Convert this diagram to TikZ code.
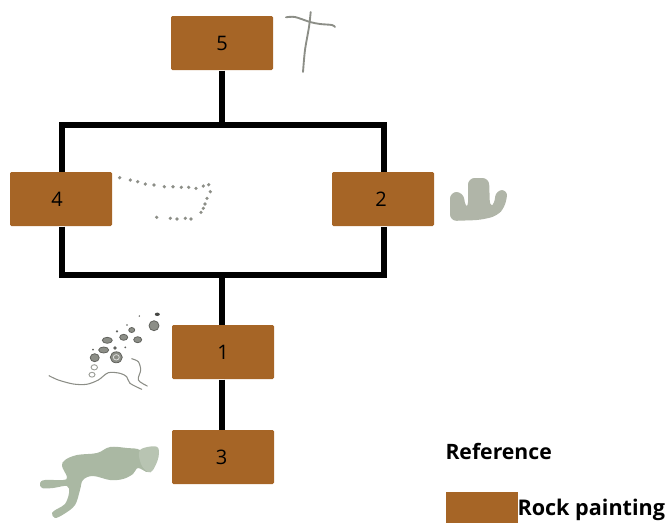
\documentclass[tikz,border=0pt]{standalone}
\usepackage{fontspec}
\setmainfont{Open Sans}
\definecolor{rockbrown}{RGB}{166,101,38}
\definecolor{paintgreen}{RGB}{170,184,163}
\definecolor{paintpale}{RGB}{184,196,178}
\definecolor{paintgrey}{RGB}{176,181,168}
\definecolor{sketchgrey}{RGB}{140,142,135}
\tikzset{every picture/.style={line width=0.75pt}}
\tikzset{
  rockbox/.style={fill=rockbrown,draw=none,rounded corners=1pt,minimum width=76.5pt,minimum height=40.5pt,inner sep=0pt,font=\fontsize{15}{17}\selectfont,text=black},
  linkline/.style={line width=4.6pt,line join=miter,black},
  dot/.style={fill=sketchgrey,draw=none},
  ring/.style={draw=sketchgrey!70!black,fill=sketchgrey,line width=0.6pt},
  openring/.style={draw=sketchgrey!85!white,line width=0.7pt},
  sketch/.style={draw=sketchgrey,line width=0.8pt,line cap=round}
}

\begin{document}
\begin{tikzpicture}[x=0.75pt,y=0.75pt,yscale=-1,xscale=1]
\useasboundingbox (0,0) rectangle (667,522);

% Boxes
\node [rockbox] (box5) at (222,43) {5};
\node [rockbox] (box4) at (61,199) {4\kern6pt};
\node [rockbox] (box2) at (383,199) {2\kern3pt};
\node [rockbox] (box1) at (223,352) {1};
\node [rockbox] (box3) at (223,457) {3\kern2pt};
\coordinate (top) at (222,125);
\coordinate (low) at (222,275);

% Links
\draw [linkline] ([xshift=0.75pt]box4.north) |- (top) -| ([xshift=0.75pt]box2.north);
\draw [linkline] ([xshift=0.75pt]box4.south) |- (low) -| ([xshift=0.75pt]box2.south);
\draw [linkline] (box5.south) -- (top);
\draw [linkline] (low) -- (low |- box1.north);
\draw [linkline] (low |- box1.south) -- (low |- box3.north);

% Cross, next to 5
\draw [sketch,line width=1.4pt] plot [smooth] coordinates {(286,17.3) (295,17) (310,22) (320,24) (332,25) (335,27)};
\draw [sketch,line width=1.4pt] plot [smooth] coordinates {(310.7,12) (309,27) (305,50) (303,72)};

% Dotted line, next to 4
\foreach \px/\py in {119.7/177.7,130.3/180,137.7/181.7,145.3/184,154/185,164.3/186.7,173/186.7,181.3/187.3,188.7/187.3,196/188.3,203.3/186,208.7/184.7,210.3/191.7,207/198.3,205/204,203.3/208.3,201/212.3,156.7/217.3,170.3/218.3,177/219,185.3/218.3,191/219}
  \fill [dot] (\px,\py) circle (1.8);

% Hand shape, next to 2
\fill [paintgrey,rounded corners=5] (450,221) -- (450,192) -- (463,192) -- (466,209) -- (468,209) -- (468,178) -- (489,178) -- (490,208) -- (494,206) -- (496,190) -- (508,190) -- (505,207) -- (497,216) -- (480,220) -- cycle;

% Rings and lines, next to 1
\foreach \px/\py/\rx/\ry in {154/325.7/5/5,131.7/330/3/2.5,123.7/337.3/4/3,137.7/339.7/4/3,107.3/340.3/5/3,103.7/350/5/3,94.7/357.7/4.5/4,116.3/357.3/6/5.5}
  \draw [ring] (\px,\py) ellipse ({\rx} and {\ry});
\draw [draw=white!70!sketchgrey,line width=0.6pt] (116.3,357.3) ellipse (3 and 2.7);
\foreach \px/\py/\rr in {139.3/316/0.8,127/325/0.8,117/331.3/1.2,115/348/1.8,125.3/347.3/1,93/349.7/1}
  \fill [sketchgrey!70!black] (\px,\py) circle (\rr);
\fill [sketchgrey!50!black] (157.3,314.3) ellipse (2.5 and 1.7);
\draw [openring] (94.3,367.3) ellipse (3.2 and 2.6);
\draw [openring] (92,374.7) ellipse (3 and 2.4);
\draw [sketch] plot [smooth] coordinates {(49,375.7) (58.3,380) (73.3,384) (86.7,384.3) (98.3,380) (108.3,372.7) (120,373.3) (126.7,376.7) (130,383.3) (141.7,389.3)};
\draw [sketch] plot [smooth] coordinates {(131.7,358.7) (138.3,361.7) (140.7,370) (138.3,380) (147.3,386)};

% Animal shape, next to 3
\fill [paintgreen] plot [smooth cycle,tension=0.6] coordinates {(140,450) (146,460) (148,472) (138,468) (133,474) (123,479) (110,480) (93,476) (83,480) (80,490) (75,505) (64,514) (55,518) (52,513) (57,509) (65,504) (69,493) (67,486) (53,488) (42,488) (40,483) (45,480) (63,480) (67,477) (62,466) (65,460) (77,455) (97,453) (110,447) (127,448)};
\fill [paintpale] plot [smooth cycle,tension=0.6] coordinates {(140,450) (156.7,446.7) (158.5,457) (153,470) (148,472) (141,464)};

% Legend
\node [anchor=west,inner sep=0pt,font=\fontsize{15.9}{18}\selectfont\bfseries] (reftext) at (445,451) {Reference};
\node [fill=rockbrown,draw=none,minimum width=54pt,minimum height=23.5pt,inner sep=0pt,anchor=north west] (keybox) at (445,491) {};
\node [anchor=west,inner sep=0pt,font=\fontsize{16.2}{18}\selectfont\bfseries] (keytext) at (517,510) {Rock painting};
\end{tikzpicture}
\end{document}
